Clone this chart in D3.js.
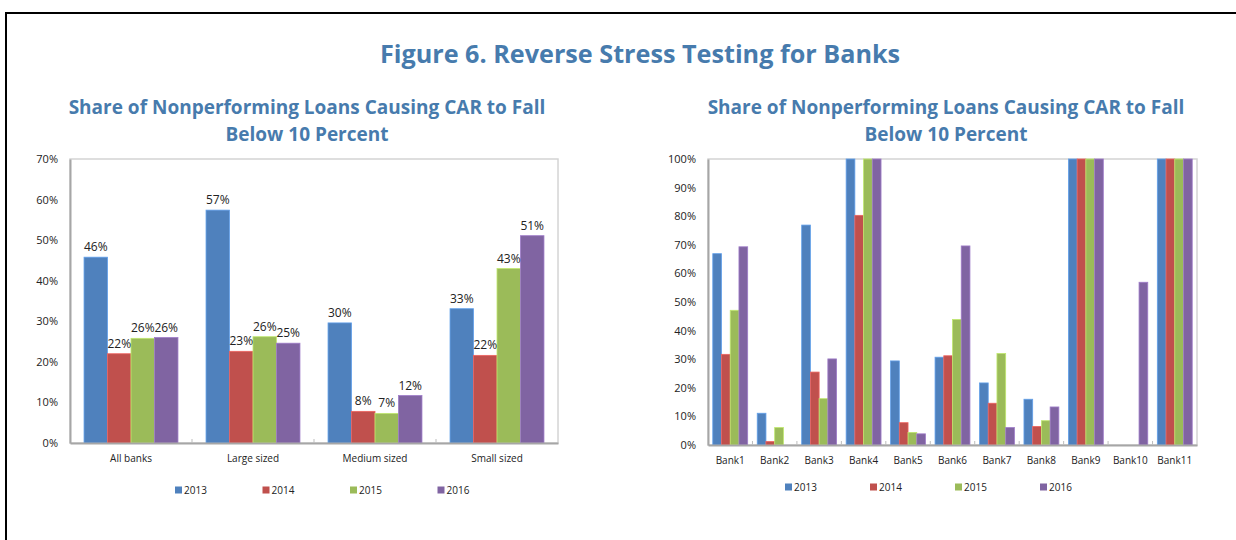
<!DOCTYPE html>
<html>
<head>
<meta charset="utf-8">
<script src="https://cdn.jsdelivr.net/npm/d3@7"></script>
<style>
  body { margin: 0; background: #fff; }
  svg { display: block; font-family: "Open Sans", "Noto Sans", sans-serif; }
</style>
</head>
<body>
<div id="chart"></div>
<script>
// ---- data ----
const years = ["2013", "2014", "2015", "2016"];
const colors = ["#4F81BD", "#C0504D", "#9BBB59", "#8064A2"];

const groupCats = ["All banks", "Large sized", "Medium sized", "Small sized"];
const groupVals = [
    [0.458, 0.220, 0.258, 0.260],
    [0.574, 0.226, 0.262, 0.246],
    [0.296, 0.078, 0.073, 0.117],
    [0.331, 0.216, 0.430, 0.511]
];
const groupTicks = [0, 0.1, 0.2, 0.3, 0.4, 0.5, 0.6, 0.7];

const bankCats = ["Bank1", "Bank2", "Bank3", "Bank4", "Bank5", "Bank6", "Bank7", "Bank8", "Bank9", "Bank10", "Bank11"];
const bankVals = [
    [0.669, 0.317, 0.471, 0.693],
    [0.111, 0.012, 0.061, 0],
    [0.769, 0.255, 0.162, 0.301],
    [1.000, 0.803, 1.000, 1.000],
    [0.294, 0.078, 0.044, 0.039],
    [0.307, 0.312, 0.439, 0.696],
    [0.217, 0.146, 0.320, 0.061],
    [0.160, 0.065, 0.085, 0.133],
    [1.000, 1.000, 1.000, 1.000],
    [0, 0, 0, 0.569],
    [1.000, 1.000, 1.000, 1.000]
];
const bankTicks = [0, 0.1, 0.2, 0.3, 0.4, 0.5, 0.6, 0.7, 0.8, 0.9, 1.0];

const mainTitle = "Figure 6. Reverse Stress Testing for Banks";
const subTitle = ["Share of Nonperforming Loans Causing CAR to Fall", "Below 10 Percent"];

const width = 1236;
const height = 540;
const titleColor = "#477BAD";

const svg = d3.select("#chart")
    .append("svg")
    .attr("width", width)
    .attr("height", height)
    .attr("viewBox", [0, 0, width, height]);

// outer frame (only top + left edges visible in the crop)
svg.append("rect")
    .attr("x", 6).attr("y", 13)
    .attr("width", width + 20).attr("height", height + 20)
    .attr("fill", "none")
    .attr("stroke", "#000")
    .attr("stroke-width", 2);

svg.append("text")
    .attr("x", 640).attr("y", 63)
    .attr("text-anchor", "middle")
    .attr("font-size", "25.2px")
    .attr("font-weight", "bold")
    .attr("fill", titleColor)
    .text(mainTitle);

function drawChart(opt) {
    const { cats, vals, ticks, left, right, top, bottom, yMax, groupFrac, labels, titleX, legendX, legendStep, legendY } = opt;

    const g = svg.append("g");

    subTitle.forEach((t, i) => {
        g.append("text")
            .attr("x", titleX)
            .attr("y", 114 + i * 27)
            .attr("text-anchor", "middle")
            .attr("font-size", "19px")
            .attr("font-weight", "bold")
            .attr("fill", titleColor)
            .text(t);
    });

    const x0 = d3.scaleBand().domain(cats).range([left, right]);
    const gap = x0.bandwidth() * (1 - groupFrac) / 2;
    const x1 = d3.scaleBand().domain(years).range([gap, x0.bandwidth() - gap]);
    const y = d3.scaleLinear().domain([0, yMax]).range([bottom, top]);

    // plot-area box
    g.append("rect")
        .attr("x", left).attr("y", top)
        .attr("width", right - left).attr("height", bottom - top)
        .attr("fill", "none")
        .attr("stroke", "#d4d4d4")
        .attr("stroke-width", 1.5);

    // y axis
    const yAxis = g.append("g")
        .attr("transform", `translate(${left},0)`)
        .call(d3.axisLeft(y).tickValues(ticks).tickFormat(d3.format(".0%")).tickSize(0).tickPadding(12));
    yAxis.select(".domain").attr("stroke", "#a6a6a6").attr("stroke-width", 2);
    yAxis.selectAll("text").attr("font-size", "11px").attr("fill", "#222").attr("font-family", "'Open Sans', sans-serif");

    // bars
    const grp = g.append("g")
        .selectAll("g")
        .data(vals)
        .join("g")
        .attr("transform", (d, i) => `translate(${x0(cats[i])},0)`);

    grp.selectAll("rect")
        .data(d => d.map((v, j) => ({ v, j })))
        .join("rect")
        .attr("x", d => x1(years[d.j]))
        .attr("y", d => y(d.v))
        .attr("width", x1.bandwidth())
        .attr("height", d => bottom - y(d.v))
        .attr("fill", d => colors[d.j])
        .attr("stroke", d => d.v > 0 ? d3.color(colors[d.j]).brighter(0.6) : "none")
        .attr("stroke-width", 0.8);

    if (labels) {
        grp.selectAll("text.lbl")
            .data(d => d.map((v, j) => ({ v, j })))
            .join("text")
            .attr("class", "lbl")
            .attr("x", d => x1(years[d.j]) + x1.bandwidth() / 2)
            .attr("y", d => y(d.v) - 6)
            .attr("text-anchor", "middle")
            .attr("font-size", "12px")
            .attr("fill", "#222")
            .text(d => d3.format(".0%")(d.v));
    }

    // x axis
    const xAxis = g.append("g")
        .attr("transform", `translate(0,${bottom})`)
        .call(d3.axisBottom(x0).tickSize(0).tickPadding(12));
    xAxis.select(".domain").attr("stroke", "#a6a6a6").attr("stroke-width", 2);
    xAxis.selectAll("text").attr("font-size", "10px").attr("fill", "#222").attr("font-family", "'Open Sans', sans-serif");

    // category boundary ticks
    g.append("g")
        .selectAll("line")
        .data(cats.slice(1))
        .join("line")
        .attr("x1", d => x0(d)).attr("x2", d => x0(d))
        .attr("y1", bottom).attr("y2", bottom - 4)
        .attr("stroke", "#bdbdbd");

    // legend
    const leg = g.append("g")
        .selectAll("g")
        .data(years)
        .join("g")
        .attr("transform", (d, i) => `translate(${legendX + i * legendStep},${legendY})`);
    leg.append("rect")
        .attr("x", 0).attr("y", -3.5)
        .attr("width", 7).attr("height", 7)
        .attr("fill", (d, i) => colors[i]);
    leg.append("text")
        .attr("x", 9).attr("y", 4)
        .attr("font-size", "10px")
        .attr("fill", "#222")
        .text(d => d);
}

drawChart({
    cats: groupCats, vals: groupVals, ticks: groupTicks,
    left: 70, right: 558, top: 159, bottom: 443, yMax: 0.7,
    groupFrac: 0.77, labels: true, titleX: 307,
    legendX: 175, legendStep: 87.5, legendY: 490
});

drawChart({
    cats: bankCats, vals: bankVals, ticks: bankTicks,
    left: 708, right: 1197, top: 159, bottom: 445, yMax: 1.0,
    groupFrac: 0.785, labels: false, titleX: 946,
    legendX: 785, legendStep: 85, legendY: 487
});
</script>
</body>
</html>
